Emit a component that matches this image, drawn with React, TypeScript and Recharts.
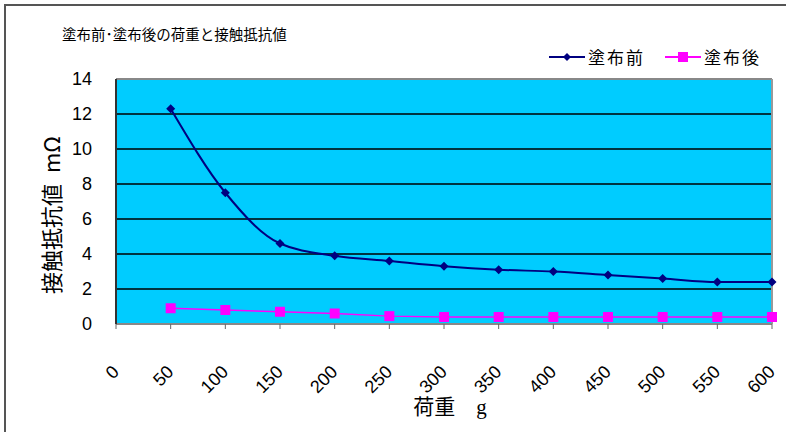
import React from "react";
import {
  LineChart,
  Line,
  XAxis,
  YAxis,
  CartesianGrid,
  ReferenceLine,
} from "recharts";

const loads = [50, 100, 150, 200, 250, 300, 350, 400, 450, 500, 550, 600];
const beforeValues = [12.3, 7.5, 4.6, 3.9, 3.6, 3.3, 3.1, 3.0, 2.8, 2.6, 2.4, 2.4];
const afterValues = [0.9, 0.8, 0.7, 0.6, 0.45, 0.4, 0.4, 0.4, 0.4, 0.4, 0.4, 0.4];
const xTicks = [0, 50, 100, 150, 200, 250, 300, 350, 400, 450, 500, 550, 600];
const yTicks = [0, 2, 4, 6, 8, 10, 12, 14];

const series = [
  { key: "before", name: "塗布前", color: "#000080" },
  { key: "after", name: "塗布後", color: "#FF00FF" },
];

const data = loads.map((load, i) => ({
  load,
  before: beforeValues[i],
  after: afterValues[i],
}));

const numFont = "'Liberation Sans', Arial, sans-serif";
const jpFont = "'Noto Sans CJK JP', sans-serif";

const Diamond = (props: any) => {
  const { cx, cy } = props;
  if (cx == null || cy == null) return null;
  const r = 4.5;
  return (
    <path
      d={`M${cx},${cy - r}L${cx + r},${cy}L${cx},${cy + r}L${cx - r},${cy}Z`}
      fill="#000080"
    />
  );
};

const Square = (props: any) => {
  const { cx, cy } = props;
  if (cx == null || cy == null) return null;
  return <rect x={cx - 5} y={cy - 5} width={10} height={10} fill="#FF00FF" />;
};

const XTick = (props: any) => {
  const { x, payload } = props;
  const ax = x + 4;
  const ay = 373;
  return (
    <text
      x={ax}
      y={ay}
      transform={`rotate(-45 ${ax} ${ay})`}
      textAnchor="end"
      fontSize={18}
      fontFamily={numFont}
      fill="#000"
    >
      {payload.value}
    </text>
  );
};

const legendLeft = [549, 665];

export default function App() {
  return (
    <div
      style={{
        position: "fixed",
        left: 0,
        top: 0,
        width: 786,
        height: 432,
        overflow: "hidden",
        background: "#fff",
      }}
    >
      <div
        style={{
          position: "absolute",
          left: 4,
          top: 4,
          width: 840,
          height: 480,
          border: "2px solid #555",
        }}
      />
      <div
        style={{
          position: "absolute",
          left: 62,
          top: 25,
          fontSize: 14.5,
          lineHeight: "18px",
          fontFamily: jpFont,
          color: "#000",
          whiteSpace: "nowrap",
        }}
      >
        塗布前･塗布後の荷重と接触抵抗値
      </div>
      {series.map((s, i) => (
        <div
          key={s.key}
          style={{
            position: "absolute",
            left: legendLeft[i],
            top: 47,
            display: "flex",
            alignItems: "center",
            fontFamily: jpFont,
            fontSize: 17,
            lineHeight: "20px",
            letterSpacing: 2,
            whiteSpace: "nowrap",
          }}
        >
          <svg width={36} height={12} style={{ marginRight: 3 }}>
            <line x1={0} y1={6} x2={36} y2={6} stroke={s.color} strokeWidth={2} />
            {s.key === "before" ? (
              <path d="M18,2L22,6L18,10L14,6Z" fill={s.color} />
            ) : (
              <rect x={13} y={1} width={10} height={10} fill={s.color} />
            )}
          </svg>
          <span>{s.name}</span>
        </div>
      ))}
      <div
        style={{
          position: "absolute",
          left: 50,
          top: 215,
          transform: "translate(-50%, -50%) rotate(-90deg)",
          fontFamily: jpFont,
          fontSize: 22,
          lineHeight: "24px",
          whiteSpace: "nowrap",
        }}
      >
        接触抵抗値{"\u2002"}mΩ
      </div>
      <div
        style={{
          position: "absolute",
          left: 450,
          top: 406,
          transform: "translate(-50%, -50%)",
          fontFamily: jpFont,
          fontSize: 21,
          lineHeight: "24px",
          whiteSpace: "nowrap",
        }}
      >
        荷重　<span style={{ fontFamily: "'Liberation Serif', serif" }}>g</span>
      </div>
      <div style={{ position: "absolute", left: 0, top: 0 }}>
        <LineChart
          width={786}
          height={432}
          data={data}
          margin={{ top: 79, right: 14, left: 56, bottom: 48 }}
        >
          <CartesianGrid
            vertical={false}
            stroke="#000"
            strokeWidth={1.5}
            fill="#00CCFF"
            fillOpacity={1}
          />
          <XAxis
            dataKey="load"
            type="number"
            domain={[0, 600]}
            ticks={xTicks}
            interval={0}
            height={60}
            axisLine={{ stroke: "#888", strokeWidth: 2 }}
            tickLine={{ stroke: "#666" }}
            tickSize={5}
            tick={<XTick />}
          />
          <YAxis
            type="number"
            domain={[0, 14]}
            ticks={yTicks}
            interval={0}
            width={60}
            axisLine={{ stroke: "#333", strokeWidth: 2 }}
            tickLine={false}
            tickMargin={18}
            tick={{ fontSize: 18, fill: "#000", fontFamily: numFont }}
          />
          <ReferenceLine y={14} stroke="#888" strokeWidth={2} />
          <ReferenceLine x={600} stroke="#999" strokeWidth={2} />
          <Line
            dataKey="after"
            name="塗布後"
            type="linear"
            stroke="#FF00FF"
            strokeWidth={1.5}
            dot={<Square />}
            isAnimationActive={false}
          />
          <Line
            dataKey="before"
            name="塗布前"
            type="monotone"
            stroke="#000080"
            strokeWidth={2}
            dot={<Diamond />}
            isAnimationActive={false}
          />
        </LineChart>
      </div>
    </div>
  );
}
